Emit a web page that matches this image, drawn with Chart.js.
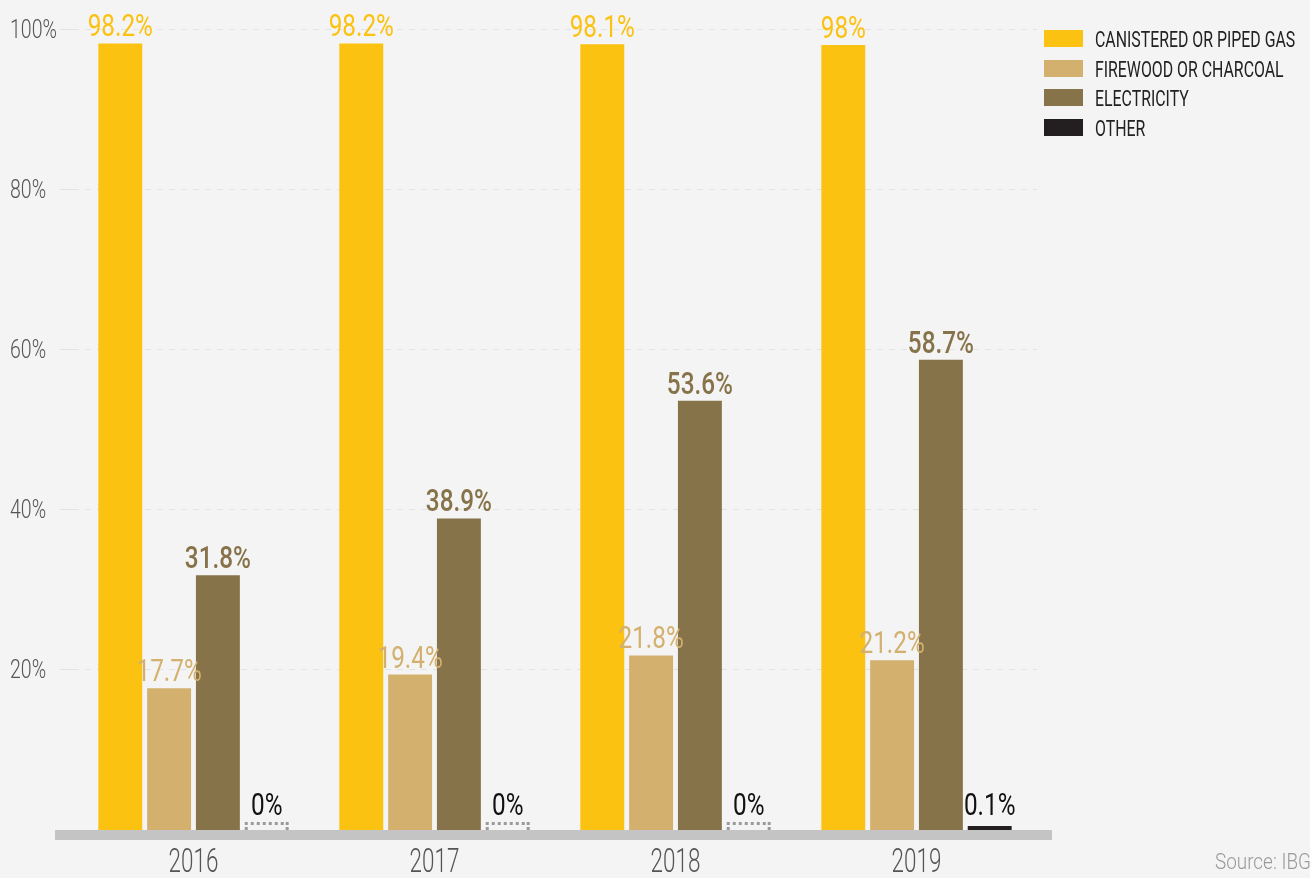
<!DOCTYPE html>
<html>
<head>
<meta charset="utf-8">
<script src="https://cdn.jsdelivr.net/npm/chart.js@4.4.0/dist/chart.umd.min.js"></script>
<style>
  body { margin: 0; background: #f4f4f4; overflow: hidden; }
  #wrap { position: relative; width: 1310px; height: 878px; overflow: hidden; }
  #legend { position: absolute; left: 1044px; top: 30px; font-family: Roboto, sans-serif; }
  .row { position: absolute; left: 0; width: 300px; height: 20px; }
  .sw { position: absolute; left: 0; top: 0; width: 39px; height: 17px; }
  .row span { position: absolute; left: 51px; top: -2px; font-size: 22.5px; line-height: 22.5px; color: #222;
    white-space: nowrap; transform: scaleX(0.705); transform-origin: left top; }
  #source { position: absolute; left: 1215px; top: 850px; font-family: Roboto, sans-serif; font-weight: 300;
    font-size: 22.5px; line-height: 22.5px; color: #9a9a9a; white-space: nowrap; transform: scaleX(0.84); transform-origin: left top; }
</style>
</head>
<body>
<div id="wrap">
  <canvas id="chart" width="1310" height="878"></canvas>
  <div id="legend"></div>
  <div id="source">Source: IBGE</div>
</div>
<script>
const FONT = "Roboto, sans-serif";

// data
const years = ["2016", "2017", "2018", "2019"];
const seriesNames = ["CANISTERED OR PIPED GAS", "FIREWOOD OR CHARCOAL", "ELECTRICITY", "OTHER"];
const gasValues = [98.2, 98.2, 98.1, 98];
const firewoodValues = [17.7, 19.4, 21.8, 21.2];
const electricityValues = [31.8, 38.9, 53.6, 58.7];
const otherValues = [0, 0, 0, 0.1];
const yTicks = [20, 40, 60, 80, 100];

const seriesColors = ["#FBC211", "#D3B06E", "#87734A", "#231F20"];
const labelColors = ["#FBC211", "#D3B06E", "#87734A", "#111111"];
const labelWeights = ["400", "400", "500", "400"];

// legend as html
const legendEl = document.getElementById("legend");
seriesNames.forEach((name, i) => {
  const row = document.createElement("div");
  row.className = "row";
  row.style.top = (i * 29.5) + "px";
  row.innerHTML = '<div class="sw" style="background:' + seriesColors[i] + '"></div><span>' + name + "</span>";
  legendEl.appendChild(row);
});

// narrow text: the original face is a condensed one, so squeeze horizontally
function drawText(ctx, text, x, y, font, color, align, sx) {
  ctx.save();
  ctx.translate(x, y);
  ctx.scale(sx, 1);
  ctx.font = font;
  ctx.fillStyle = color;
  ctx.textAlign = align;
  ctx.textBaseline = "alphabetic";
  ctx.fillText(text, 0, 0);
  ctx.restore();
}

const background = {
  id: "background",
  beforeDraw(chart) {
    const ctx = chart.ctx;
    ctx.save();
    ctx.fillStyle = "#f4f4f4";
    ctx.fillRect(0, 0, chart.width, chart.height);
    ctx.restore();
  },
};

// thick grey base line, dotted stubs for zero values, value labels, axis labels
const barExtras = {
  id: "barExtras",
  afterDatasetsDraw(chart) {
    const ctx = chart.ctx;
    const x = chart.scales.x;
    const y = chart.scales.y;
    const area = chart.chartArea;
    const zeroY = y.getPixelForValue(0);
    const stubTop = y.getPixelForValue(1);
    ctx.save();
    ctx.fillStyle = "#c4c4c4";
    ctx.fillRect(area.left - 18, zeroY, area.right - area.left + 33, 10);

    chart.data.datasets.forEach((ds, i) => {
      const meta = chart.getDatasetMeta(i);
      meta.data.forEach((bar, j) => {
        const v = ds.data[j];
        if (v === 0) {
          const left = bar.x - bar.width / 2;
          const right = bar.x + bar.width / 2;
          ctx.fillStyle = "#9a9a9a";
          for (let px = left; px <= right - 3; px += 6) {
            ctx.fillRect(px, stubTop, 3, 3);
          }
          ctx.fillRect(left, stubTop + 5, 3, 3);
          ctx.fillRect(right - 3, stubTop, 3, 3);
          ctx.fillRect(right - 3, stubTop + 5, 3, 3);
        }
        drawText(ctx, v + "%", bar.x, Math.min(bar.y, stubTop) - 7,
          labelWeights[i] + " 32px " + FONT, labelColors[i], "center", 0.76);
      });
    });

    yTicks.forEach((v) => {
      drawText(ctx, v + "%", 10, y.getPixelForValue(v) + 8.5, "300 25px " + FONT, "#555", "left", 0.78);
    });
    years.forEach((lab, i) => {
      drawText(ctx, lab, x.getPixelForValue(i), zeroY + 42, "300 34px " + FONT, "#555", "center", 0.66);
    });
    ctx.restore();
  },
};

const values = [gasValues, firewoodValues, electricityValues, otherValues];

new Chart(document.getElementById("chart").getContext("2d"), {
  type: "bar",
  data: {
    labels: years,
    datasets: values.map((data, i) => ({
      label: seriesNames[i],
      data: data,
      backgroundColor: i === 3 ? data.map((v) => (v ? seriesColors[i] : "rgba(0,0,0,0)")) : seriesColors[i],
      minBarLength: i === 3 ? 4 : 0,
      categoryPercentage: 0.81,
      barPercentage: 0.9,
    })),
  },
  options: {
    responsive: false,
    animation: false,
    layout: { padding: { left: 10, top: 29, right: 273, bottom: 0 } },
    plugins: {
      legend: { display: false },
      tooltip: { enabled: false },
    },
    scales: {
      x: {
        grid: { display: false, drawTicks: false },
        border: { display: false },
        ticks: { display: false },
        afterFit: (scale) => { scale.height = 48; },
      },
      y: {
        min: 0,
        max: 100,
        afterBuildTicks: (scale) => { scale.ticks = yTicks.map((v) => ({ value: v })); },
        grid: { color: "#e3e3e3", lineWidth: 1, tickLength: 13, tickColor: "#e3e3e3" },
        border: { display: false, dash: [6, 6] },
        ticks: { display: false },
        afterFit: (scale) => { scale.width = 63; },
      },
    },
  },
  plugins: [background, barExtras],
});
</script>
</body>
</html>
